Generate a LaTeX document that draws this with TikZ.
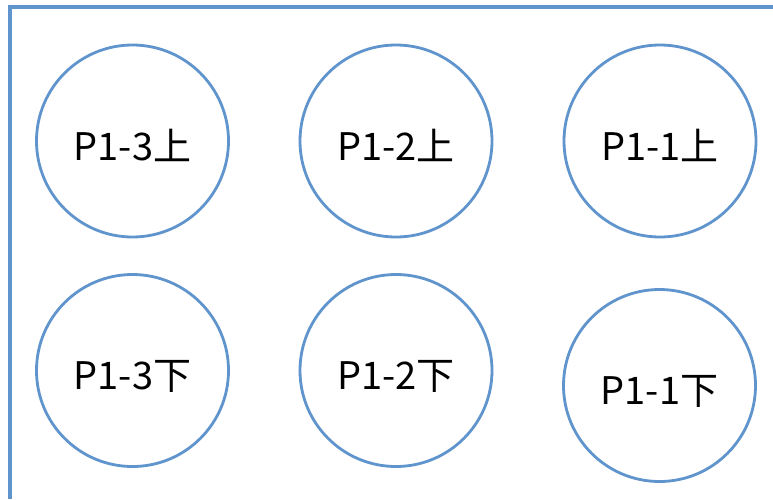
\documentclass[tikz,border=0pt]{standalone}
\usepackage{fontspec}
\newfontfamily\cjk{Noto Sans CJK JP}
\definecolor{plateblue}{RGB}{96,148,204}

\begin{document}
\begin{tikzpicture}[x=1pt, y=-1pt, every node/.style={font=\cjk\fontsize{38}{42}\selectfont},
  well/.style={circle,draw=plateblue,line width=2.8pt,minimum size=192pt,inner sep=0pt,
    text height=38pt,text depth=0pt}]

\useasboundingbox (0,0) rectangle (773,499);

\draw[plateblue,line width=3.2pt] (10,499) -- (10,7) -- (773,7);

\node[well] (p13u) at (132.5,141) {P1-3上};
\node[well] (p12u) at (396,141) {P1-2上};
\node[well] (p11u) at (660,141) {P1-1上};
\node[well] (p13d) at (132.5,370.5) {P1-3下};
\node[well] (p12d) at (396,370.5) {P1-2下};
\node[well] (p11d) at (659.5,385.5) {P1-1下};

\end{tikzpicture}
\end{document}
